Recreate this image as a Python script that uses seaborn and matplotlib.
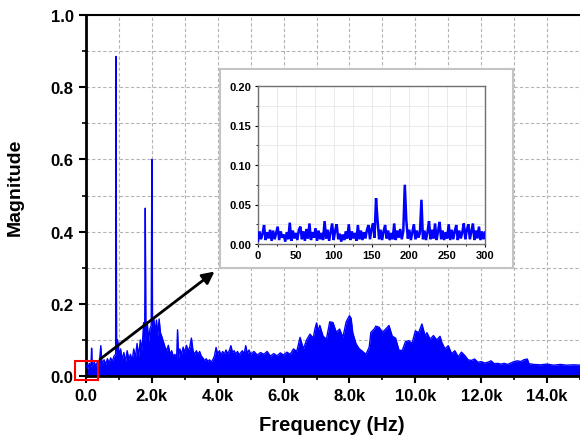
import numpy as np
import pandas as pd
import matplotlib
matplotlib.use("Agg")
import matplotlib.pyplot as plt
from matplotlib.patches import Rectangle
from matplotlib.ticker import MultipleLocator, FuncFormatter
import seaborn as sns

# ---------------- data ----------------
# main spectrum: frequency (kHz) and magnitude envelope
main_freq_khz = [
    0.00, 0.05, 0.10, 0.15, 0.17, 0.19, 0.25, 0.30, 0.35, 0.40, 0.45, 0.48, 0.55, 0.60,
    0.65, 0.70, 0.75, 0.80, 0.85, 0.90, 0.91, 0.93, 0.96, 1.00, 1.05, 1.10, 1.15, 1.20,
    1.25, 1.30, 1.35, 1.40, 1.45, 1.50, 1.55, 1.60, 1.65, 1.70, 1.75, 1.78, 1.80, 1.82,
    1.86, 1.90, 1.94, 1.98, 2.00, 2.02, 2.06, 2.10, 2.14, 2.18, 2.22, 2.26, 2.30, 2.35,
    2.40, 2.45, 2.50, 2.55, 2.60, 2.65, 2.70, 2.75, 2.78, 2.81, 2.85, 2.90, 2.95, 3.00,
    3.05, 3.10, 3.15, 3.20, 3.25, 3.30, 3.35, 3.40, 3.45, 3.50, 3.55, 3.60, 3.65, 3.70,
    3.75, 3.80, 3.85, 3.90, 3.95, 4.00, 4.05, 4.10, 4.15, 4.20, 4.25, 4.30, 4.35, 4.40,
    4.45, 4.50, 4.55, 4.60, 4.65, 4.70, 4.75, 4.80, 4.85, 4.90, 4.95, 5.00, 5.10, 5.20,
    5.30, 5.40, 5.50, 5.60, 5.70, 5.80, 5.90, 6.00, 6.10, 6.20, 6.30, 6.40, 6.50, 6.60,
    6.70, 6.80, 6.90, 6.95, 7.00, 7.05, 7.10, 7.20, 7.30, 7.40, 7.50, 7.60, 7.70, 7.80,
    7.90, 8.00, 8.05, 8.10, 8.20, 8.30, 8.40, 8.50, 8.60, 8.65, 8.75, 8.80, 8.90, 9.00,
    9.10, 9.20, 9.30, 9.40, 9.50, 9.60, 9.70, 9.80, 9.90, 10.00, 10.10, 10.20, 10.30, 10.35,
    10.45, 10.55, 10.65, 10.75, 10.80, 10.90, 11.00, 11.10, 11.20, 11.30, 11.40, 11.50, 11.60, 11.70,
    11.80, 11.90, 12.00, 12.10, 12.20, 12.30, 12.40, 12.50, 12.60, 12.70, 12.80, 12.90, 13.00, 13.10,
    13.20, 13.30, 13.40, 13.45, 13.60, 13.80, 14.00, 14.20, 14.40, 14.60, 14.80, 15.00,
]
main_mag = [
    0.030, 0.020, 0.035, 0.025, 0.077, 0.030, 0.038, 0.028, 0.040, 0.030, 0.084, 0.035, 0.045, 0.032,
    0.048, 0.036, 0.050, 0.040, 0.055, 0.060, 0.885, 0.070, 0.100, 0.060, 0.075, 0.045, 0.065, 0.040,
    0.070, 0.045, 0.060, 0.042, 0.075, 0.050, 0.090, 0.055, 0.100, 0.070, 0.148, 0.090, 0.465, 0.110,
    0.150, 0.095, 0.130, 0.140, 0.600, 0.150, 0.158, 0.120, 0.155, 0.110, 0.158, 0.120, 0.110, 0.095,
    0.080, 0.070, 0.085, 0.060, 0.070, 0.055, 0.060, 0.045, 0.128, 0.050, 0.075, 0.060, 0.080, 0.065,
    0.085, 0.070, 0.080, 0.105, 0.070, 0.060, 0.070, 0.060, 0.068, 0.055, 0.050, 0.042, 0.048, 0.040,
    0.045, 0.038, 0.045, 0.055, 0.079, 0.060, 0.070, 0.058, 0.068, 0.060, 0.072, 0.062, 0.070, 0.084,
    0.065, 0.070, 0.060, 0.068, 0.058, 0.065, 0.070, 0.060, 0.084, 0.062, 0.072, 0.060, 0.068, 0.058,
    0.065, 0.060, 0.068, 0.055, 0.062, 0.056, 0.064, 0.058, 0.066, 0.060, 0.075, 0.068, 0.107, 0.075,
    0.100, 0.116, 0.105, 0.130, 0.147, 0.125, 0.140, 0.110, 0.102, 0.150, 0.148, 0.121, 0.130, 0.107,
    0.150, 0.167, 0.160, 0.120, 0.089, 0.075, 0.068, 0.060, 0.080, 0.121, 0.130, 0.138, 0.135, 0.121,
    0.130, 0.140, 0.110, 0.105, 0.072, 0.070, 0.095, 0.098, 0.090, 0.125, 0.120, 0.144, 0.110, 0.120,
    0.102, 0.112, 0.100, 0.110, 0.094, 0.075, 0.084, 0.062, 0.070, 0.053, 0.066, 0.057, 0.045, 0.043,
    0.047, 0.038, 0.040, 0.036, 0.038, 0.042, 0.034, 0.035, 0.033, 0.035, 0.032, 0.036, 0.040, 0.042,
    0.040, 0.045, 0.047, 0.034, 0.032, 0.031, 0.033, 0.030, 0.032, 0.030, 0.031, 0.030,
]

# inset spectrum: 0-300 Hz, one value per 2 Hz bin
inset_bin_hz = 2
inset_mag = [
    0.004, 0.016, 0.006, 0.013, 0.024, 0.005, 0.015, 0.007, 0.018, 0.004,
    0.017, 0.006, 0.014, 0.022, 0.005, 0.016, 0.008, 0.012, 0.003, 0.015,
    0.006, 0.027, 0.004, 0.017, 0.007, 0.014, 0.005, 0.018, 0.022, 0.006,
    0.016, 0.004, 0.019, 0.007, 0.026, 0.005, 0.015, 0.008, 0.020, 0.004,
    0.017, 0.006, 0.014, 0.005, 0.029, 0.007, 0.018, 0.004, 0.015, 0.026,
    0.005, 0.017, 0.025, 0.006, 0.013, 0.003, 0.012, 0.005, 0.016, 0.007,
    0.025, 0.005, 0.016, 0.007, 0.014, 0.004, 0.024, 0.006, 0.017, 0.005,
    0.015, 0.007, 0.018, 0.024, 0.006, 0.019, 0.026, 0.008, 0.058, 0.030,
    0.006, 0.018, 0.005, 0.016, 0.024, 0.007, 0.017, 0.005, 0.014, 0.006,
    0.026, 0.005, 0.017, 0.008, 0.019, 0.006, 0.016, 0.075, 0.030, 0.007,
    0.018, 0.005, 0.015, 0.025, 0.006, 0.017, 0.008, 0.014, 0.056, 0.006,
    0.017, 0.005, 0.015, 0.029, 0.006, 0.018, 0.007, 0.026, 0.005, 0.016,
    0.028, 0.006, 0.017, 0.005, 0.015, 0.007, 0.025, 0.005, 0.018, 0.006,
    0.016, 0.024, 0.005, 0.017, 0.007, 0.015, 0.026, 0.006, 0.018, 0.025,
    0.006, 0.016, 0.026, 0.005, 0.017, 0.007, 0.022, 0.005, 0.016, 0.006,
    0.015,
]
inset_freq_hz = [i * inset_bin_hz for i in range(len(inset_mag))]

main_xticks = [0, 2, 4, 6, 8, 10, 12, 14]
main_xticklabels = ["0.0", "2.0k", "4.0k", "6.0k", "8.0k", "10.0k", "12.0k", "14.0k"]

BLUE = "#0000FF"

# ---------------- style ----------------
sns.set_style("white")
plt.rcParams["font.family"] = ["Liberation Sans", "DejaVu Sans"]
plt.rcParams["font.weight"] = "bold"
for key in ["text.color", "axes.labelcolor", "xtick.color", "ytick.color"]:
    plt.rcParams[key] = "black"

W, H = 580, 439
fig = plt.figure(figsize=(W / 100, H / 100), dpi=100)

def fx(px):
    return px / W

def fy(py):
    return 1 - py / H

# main axes
ax = fig.add_axes([fx(86), fy(377), fx(580) - fx(86), fy(16) - fy(377)])
df_main = pd.DataFrame({"f": main_freq_khz, "m": main_mag})
ax.fill_between(df_main["f"], 0, df_main["m"], color=BLUE, lw=0, zorder=2)
sns.lineplot(data=df_main, x="f", y="m", ax=ax, color=BLUE, lw=1.0,
             estimator=None, zorder=3)

ax.set_xlim(0, 15)
ax.set_ylim(0, 1.0)
ax.set_xlabel("")
ax.set_ylabel("")
ax.xaxis.set_major_locator(MultipleLocator(2))
ax.xaxis.set_minor_locator(MultipleLocator(1))
ax.yaxis.set_major_locator(MultipleLocator(0.2))
ax.yaxis.set_minor_locator(MultipleLocator(0.1))
ax.set_xticks(main_xticks)
ax.set_xticklabels(main_xticklabels)
ax.yaxis.set_major_formatter(FuncFormatter(lambda v, p: f"{v:.1f}"))
ax.grid(True, which="both", color="#b4b4b4", ls=(0, (3, 2)), lw=0.8, zorder=0)
ax.set_axisbelow(True)
ax.tick_params(axis="both", which="major", direction="out", length=5, width=1.5,
               labelsize=12, pad=4, colors="black")
ax.tick_params(axis="both", which="minor", direction="out", length=3, width=1.2)
ax.tick_params(axis="x", which="both", bottom=True)
ax.tick_params(axis="y", which="both", left=True)
for lab in ax.get_xticklabels() + ax.get_yticklabels():
    lab.set_fontweight("bold")
for side in ["left", "bottom"]:
    ax.spines[side].set_linewidth(2.0)
    ax.spines[side].set_color("black")
ax.spines["top"].set_linewidth(1.5)
ax.spines["top"].set_color("black")
ax.spines["right"].set_visible(False)

# red zoom box and arrow
ax.add_patch(Rectangle((-0.33, -0.011), 0.69, 0.053, fill=False, ec="red", lw=1.5,
                       clip_on=False, zorder=6))
ax.annotate("", xy=(3.97, 0.294), xytext=(0.36, 0.042),
            arrowprops=dict(arrowstyle="-|>", color="black", lw=2, mutation_scale=18),
            zorder=7, annotation_clip=False)

fig.text(fx(15), fy(187), "Magnitude", rotation=90, ha="center", va="center",
         fontsize=14, fontweight="bold")
fig.text(fx(332), fy(426), "Frequency (Hz)", ha="center", va="center",
         fontsize=14.5, fontweight="bold")

# inset frame
frame = Rectangle((fx(220), fy(269)), fx(513) - fx(220), fy(70) - fy(269),
                  transform=fig.transFigure, facecolor="white", edgecolor="#c4c4c4",
                  lw=1.5, zorder=1)
fig.patches.append(frame)

# inset axes
axi = fig.add_axes([fx(258), fy(245), fx(485) - fx(258), fy(87) - fy(245)])
axi.set_zorder(2)
df_in = pd.DataFrame({"f": inset_freq_hz, "m": inset_mag})
sns.lineplot(data=df_in, x="f", y="m", ax=axi, color=BLUE, lw=1.8, estimator=None,
             zorder=3, solid_joinstyle="bevel")
axi.set_xlim(0, 300)
axi.set_ylim(0, 0.2)
axi.set_xlabel("")
axi.set_ylabel("")
axi.xaxis.set_major_locator(MultipleLocator(50))
axi.xaxis.set_minor_locator(MultipleLocator(25))
axi.yaxis.set_major_locator(MultipleLocator(0.05))
axi.yaxis.set_minor_locator(MultipleLocator(0.025))
axi.yaxis.set_major_formatter(FuncFormatter(lambda v, p: f"{v:.2f}"))
axi.grid(True, which="both", color="#e6e6e6", lw=0.6, zorder=0)
axi.set_axisbelow(True)
axi.tick_params(axis="both", which="major", direction="out", length=2.5, width=0.8,
                labelsize=8, pad=2)
axi.tick_params(axis="both", which="minor", direction="out", length=1.5, width=0.6)
axi.tick_params(axis="x", which="both", bottom=True)
axi.tick_params(axis="y", which="both", left=True)
for lab in axi.get_xticklabels() + axi.get_yticklabels():
    lab.set_fontweight("bold")
for side in axi.spines:
    axi.spines[side].set_color("#707070")
    axi.spines[side].set_linewidth(1.0)

fig.savefig("out.png", dpi=100)
